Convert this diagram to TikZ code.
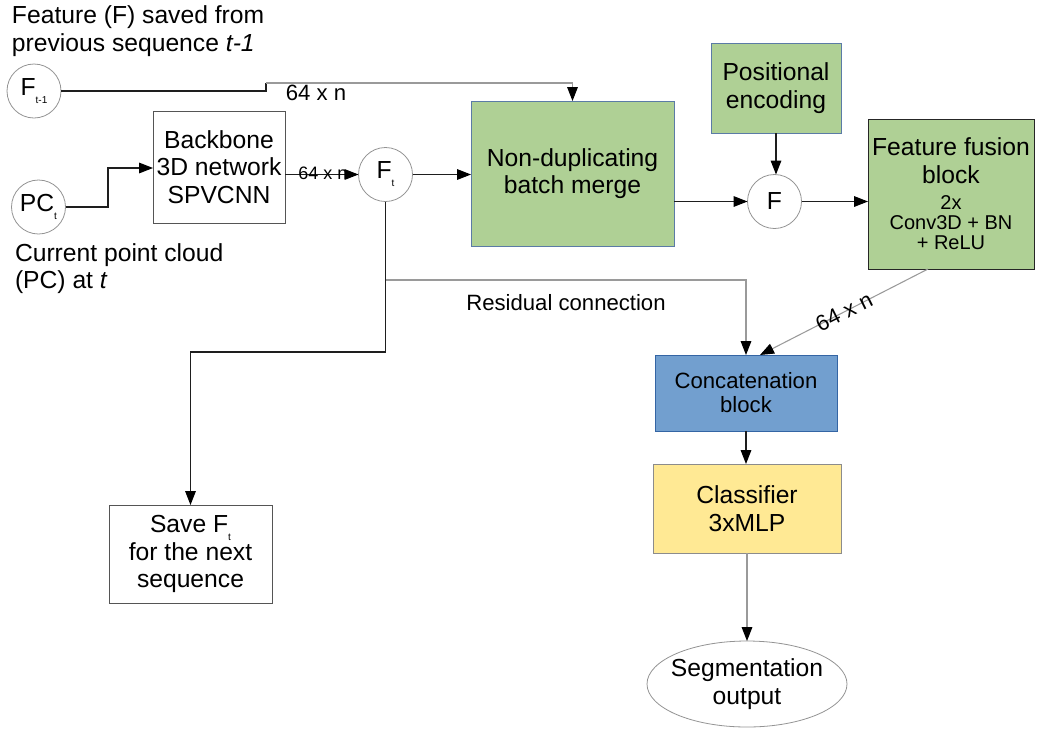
\documentclass[tikz,border=0pt]{standalone}
\usepackage{fontspec}
\setmainfont{Liberation Sans}
\usetikzlibrary{arrows.meta,calc,shapes.geometric}

\definecolor{boxgreen}{HTML}{AFD095}
\definecolor{greenedge}{HTML}{5B7BA6}
\definecolor{concatblue}{HTML}{729FCF}
\definecolor{concatedge}{HTML}{3465A4}
\definecolor{clsyellow}{HTML}{FFE994}
\definecolor{clsedge}{HTML}{8C8C8C}
\definecolor{lightline}{HTML}{9A9A9A}
\definecolor{darkline}{HTML}{1E1E1E}
\definecolor{plainedge}{HTML}{555555}

\newcommand{\bigtxt}{\fontsize{18.5pt}{20.8pt}\selectfont}
\newcommand{\midtxt}{\fontsize{16.6pt}{18pt}\selectfont}
\newcommand{\smalltxt}{\fontsize{15pt}{15pt}\selectfont}
\newcommand{\tinytxt}{\fontsize{13.5pt}{13.5pt}\selectfont}
\newcommand{\lowsub}[1]{\raisebox{-6pt}{\fontsize{7.5pt}{8pt}\selectfont #1}}

\begin{document}
\begin{tikzpicture}[x=0.75pt,y=-0.75pt,
  >={Triangle[length=10.5pt,width=8pt,color=black]},
  every node/.style={inner sep=0pt, outer sep=0pt},
  conn/.style={draw=darkline, line width=0.8pt},
  soft/.style={draw=lightline, line width=0.8pt},
  plainbox/.style={draw=plainedge, line width=0.75pt, align=center, font=\bigtxt},
  greenbox/.style={fill=boxgreen, draw=greenedge, line width=0.75pt, align=center, font=\bigtxt},
  dot/.style={circle, draw=gray!85, line width=0.6pt, minimum size=40.5pt, font=\bigtxt},
]
\useasboundingbox (0,0) rectangle (1041,729);

% free text labels
\node[anchor=west, align=left, font=\bigtxt] (title) at (12,31)
  {Feature (F) saved from\\previous sequence \textit{t-1}};
\node[anchor=west, align=left, font=\bigtxt] (pclabel) at (15,268.5)
  {Current point cloud\\(PC) at \textit{t}};

% blocks
\node[dot] (Ft1) at (34,91) {F\lowsub{t-1}};
\node[dot] (PC) at (38.5,207) {PC\lowsub{t}};
\node[plainbox, minimum width=99pt, minimum height=84pt] (backbone) at (219,167)
  {Backbone\\3D network\\SPVCNN};
\node[dot] (Ft) at (385.5,174.5) {F\lowsub{t}};
\node[greenbox, minimum width=152.25pt, minimum height=108.75pt] (merge) at (572.5,173.5)
  {Non-duplicating\\batch merge};
\node[greenbox, minimum width=97.5pt, minimum height=67.5pt] (posenc) at (776,88)
  {Positional\\encoding};
\node[dot] (F) at (774.5,201.5) {F};
\node[greenbox, draw=black!85, minimum width=124.5pt, minimum height=112.5pt] (fusion) at (951,194)
  {Feature fusion\\block\\[-1.3pt]\smalltxt 2x\\[-5.8pt]\smalltxt Conv3D + BN\\[-5.8pt]\smalltxt + ReLU};
\node[fill=concatblue, draw=concatedge, line width=0.75pt, align=center, font=\midtxt,
  minimum width=136.5pt, minimum height=57pt] (concat) at (746,393)
  {Concatenation\\block};
\node[fill=clsyellow, draw=clsedge, line width=0.75pt, align=center, font=\bigtxt,
  minimum width=141pt, minimum height=66.75pt] (cls) at (747,508.5)
  {Classifier\\3xMLP};
\node[ellipse, draw=gray!85, line width=0.6pt, align=center, font=\bigtxt,
  inner xsep=-5pt, inner ysep=0pt,
  minimum width=150pt, minimum height=64.5pt] (seg) at (747,684)
  {Segmentation\\output};
\node[plainbox, minimum width=122.25pt, minimum height=73.5pt] (save) at (190.5,554)
  {Save F\lowsub{t}\\for the next\\sequence};

% connectors
\coordinate (step) at (266,83);
\draw[conn] (Ft1.east) -| (step);
\draw[soft,->] (step) -| (merge.north);

\coordinate (elbow) at (108,168);
\draw[conn,->] (PC.east) -| (elbow) -- (backbone.west |- elbow);
\draw[conn,->] (backbone.east |- Ft) -- (Ft.west);
\draw[conn,->] (Ft.east) -- (merge.west |- Ft);
\draw[conn,->] (merge.east |- F) -- (F.west);
\draw[conn,->] (posenc.south) -- (posenc.south |- F.north);
\draw[conn,->] (F.east) -- (F.east -| fusion.west);
\draw[soft,->] ($(fusion.south west)+(60,0)$) -- ($(concat.north)+(14,0)$);

\coordinate (resstart) at (385.5,280);
\draw[soft,->] (resstart) -| (concat.north);
\coordinate (savebend) at (385.5,352);
\draw[conn,->] (Ft.south) -- (savebend) -| (save.north);
\draw[conn,->] (concat.south) -- (concat.south |- cls.north);
\draw[soft,->] (cls.south) -- (seg.north);

% connector labels
\node[font=\midtxt] (dimtop) at (316,93) {64 x n};
\node[font=\tinytxt] (dimmid) at (323,173) {64 x n};
\node[font=\midtxt] (reslabel) at (566,303) {Residual connection};
\node[font=\midtxt, rotate=26.6] (dimdiag) at (844,312) {64 x n};
\end{tikzpicture}
\end{document}
